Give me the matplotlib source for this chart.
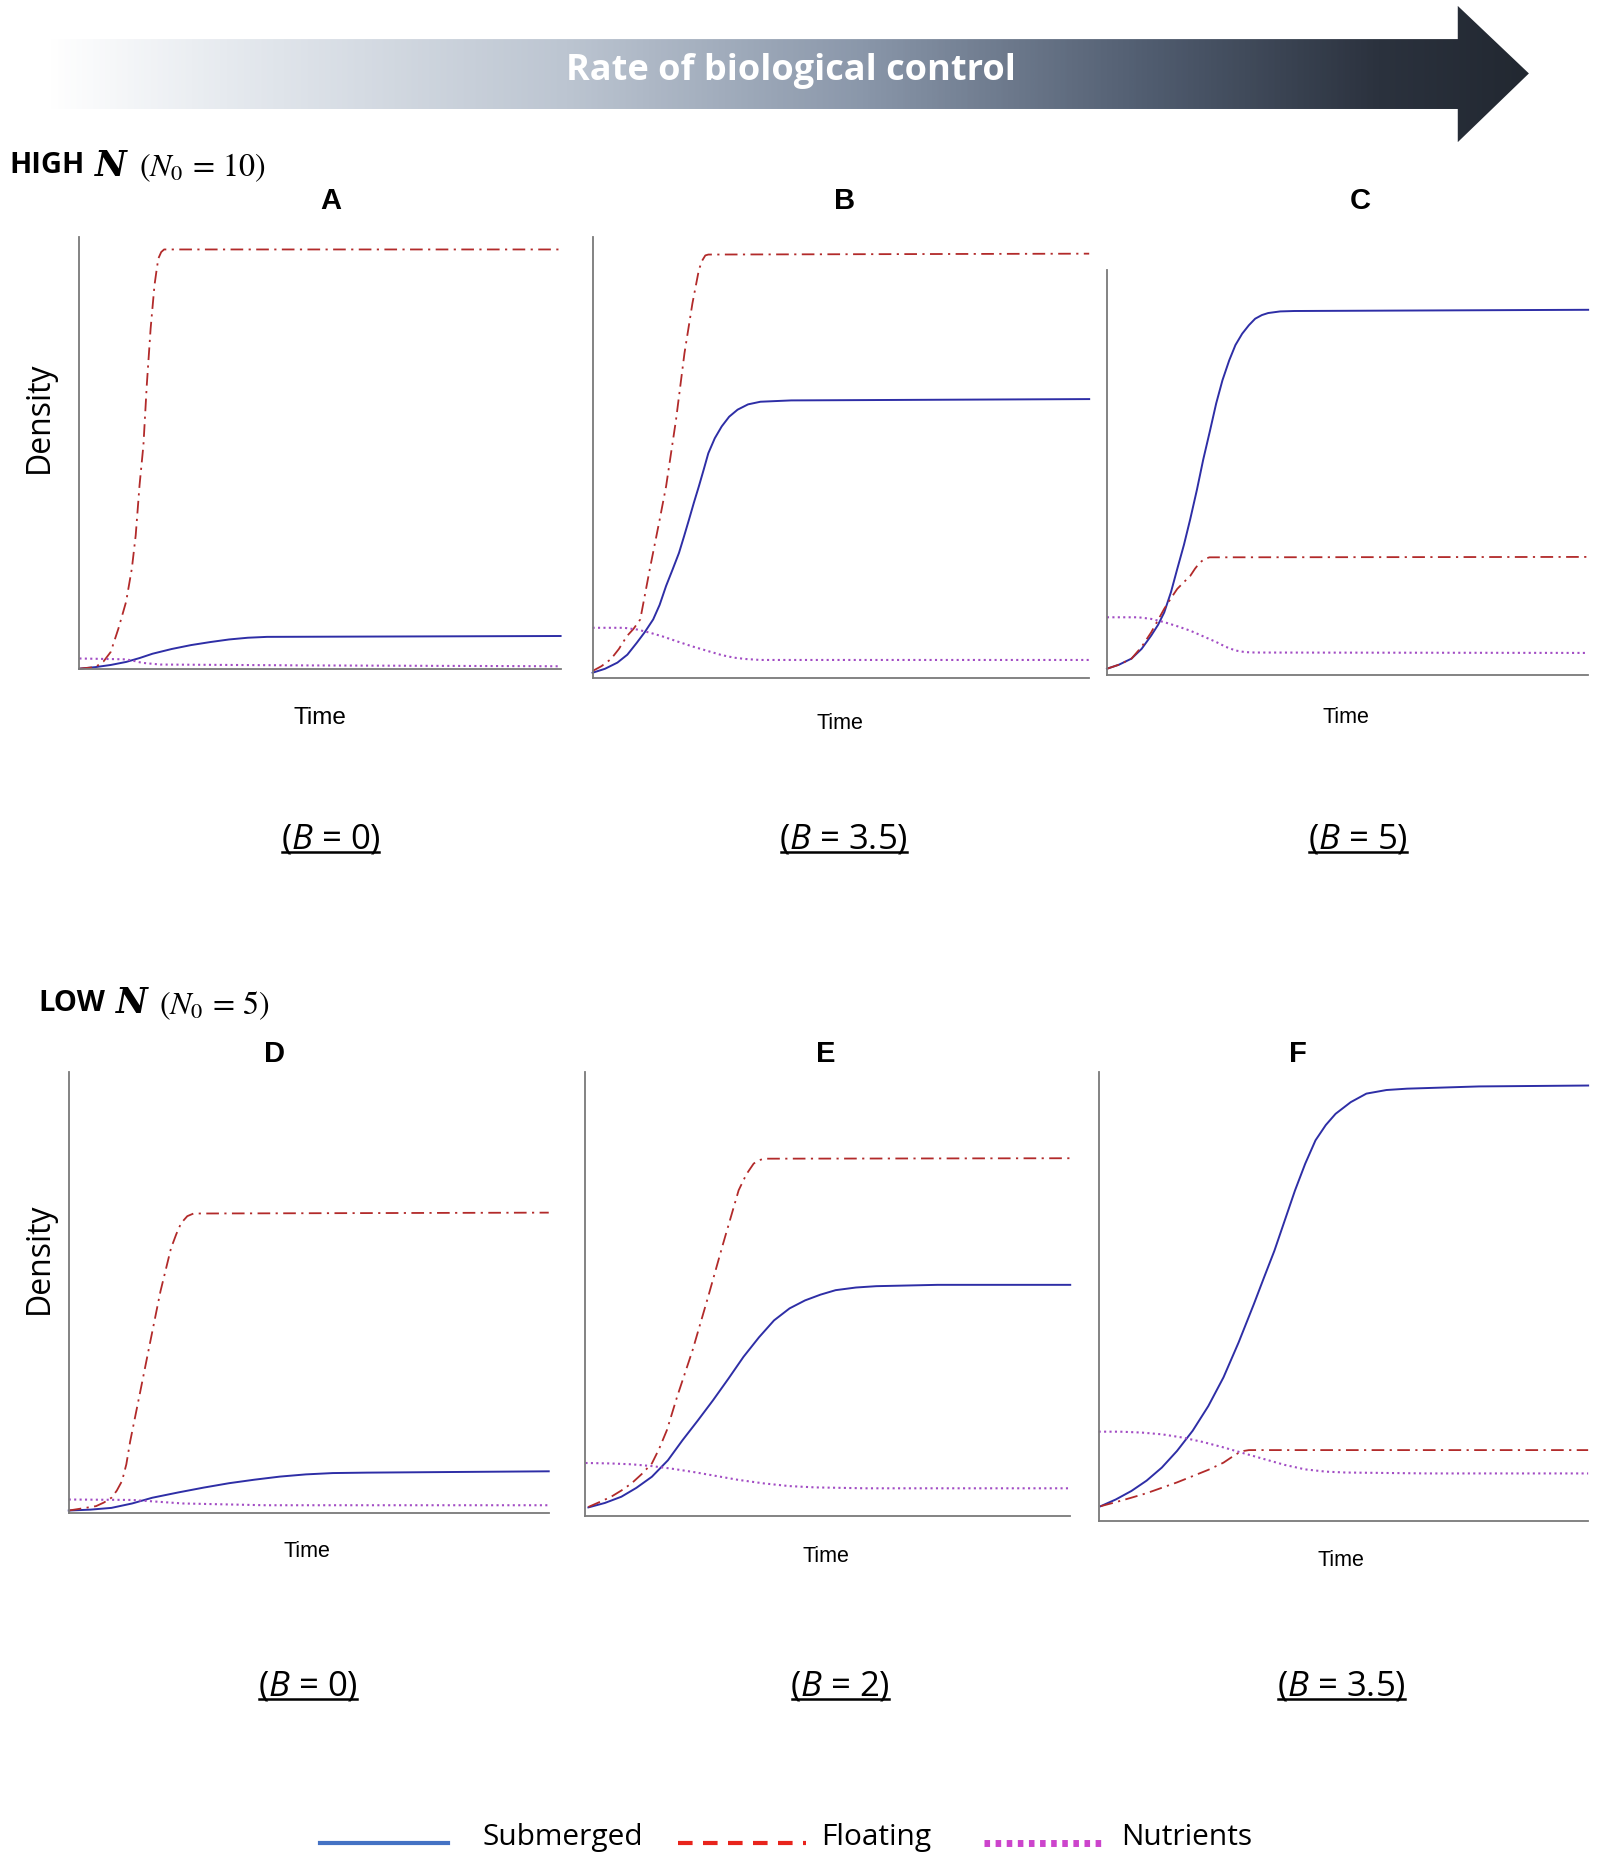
import numpy as np
import matplotlib
matplotlib.use("Agg")
import matplotlib.pyplot as plt
from matplotlib.colors import LinearSegmentedColormap
from matplotlib.patches import Polygon

plt.rcParams['font.family'] = ['Open Sans', 'DejaVu Sans']
plt.rcParams['mathtext.fontset'] = 'custom'
plt.rcParams['mathtext.rm'] = 'Open Sans'
plt.rcParams['mathtext.it'] = 'Open Sans:italic'

# ---- data (time 0-100, density as % of axis height) ----
panel_names = ['A', 'B', 'C', 'D', 'E', 'F']
b_labels = ['0', '3.5', '5', '0', '2', '3.5']

A_sub = [(0, 0.15), (3.3, 0.5), (6.5, 1.0), (9.7, 1.7), (12.5, 2.6), (15.2, 3.6), (19.2, 4.7), (23.2, 5.6),
         (27.2, 6.3), (31.1, 6.9), (35, 7.3), (39, 7.5), (100, 7.7)]
A_flo = [(0, 0.15), (3.3, 0.5), (5, 1.8), (6.5, 4), (8.1, 9.4), (9.7, 15.6), (10.9, 23.3), (11.7, 31), (12.5, 42.6),
         (13.3, 51.8), (14.0, 65.7), (14.8, 78.8), (15.6, 88.8), (16, 92), (16.4, 95), (17, 96.5), (17.6, 97.1), (100, 97.1)]
A_nut = [(0, 2.5), (9.7, 2.3), (11.5, 1.9), (13, 1.5), (16.8, 1.1), (47, 0.9), (100, 0.7)]

B_sub = [(0, 1.1), (2.5, 2), (5, 3.4), (7, 5.2), (8.9, 7.9), (10.5, 10.3), (12.2, 13.2), (13.5, 16.5), (14.8, 20.8),
         (16.1, 24.5), (17.4, 28.3), (18.4, 32), (19.4, 35.8), (20.4, 39.7), (21.4, 43.4), (22.4, 47.3), (23.3, 50.9),
         (24.6, 54.3), (26, 57), (27.5, 59.2), (29.2, 60.8), (31.3, 62), (33.8, 62.6), (40, 62.9), (100, 63.2)]
B_flo = [(0, 1.5), (1.8, 2.6), (3.7, 4.2), (5.3, 6.5), (6.9, 9.4), (8.2, 11), (9.6, 13.2), (11.5, 24.5), (13.5, 35.8),
         (14.8, 43.4), (16.8, 58.5), (18.5, 73.6), (20.1, 84.9), (21.4, 92.5), (22, 94.5), (22.7, 95.8), (23.3, 96),
         (100, 96.2)]
B_nut = [(0, 11.3), (6.3, 11.3), (9, 10.9), (11.5, 10.2), (14.2, 9.3), (16.8, 8.3), (20, 7.1), (23.3, 6.0), (26, 5.1),
         (28.6, 4.5), (31, 4.2), (33.8, 4.0), (100, 4.0)]

C_sub = [(0, 1.6), (2.5, 2.6), (5.1, 4.1), (7.2, 6.5), (9.2, 9.8), (10.6, 12.4), (11.9, 15.5), (13.3, 20.5),
         (14.6, 26.2), (16, 32.2), (17.3, 38.5), (18.7, 45.8), (20, 53.2), (21.4, 60.3), (22.7, 67.1), (24, 72.8),
         (25.4, 77.7), (26.7, 81.5), (28.1, 84.3), (29.5, 86.4), (30.8, 88), (32.2, 88.9), (33.5, 89.4), (36, 89.8),
         (38.9, 89.9), (100, 90.2)]
C_flo = [(0, 1.6), (2.5, 2.6), (5.1, 4.1), (7.2, 7), (9.2, 10.6), (10.6, 13.6), (11.9, 16.4), (13.3, 19), (14.6, 21.3),
         (16, 23), (17.3, 24.5), (18.3, 26.3), (19.3, 27.8), (20.3, 28.7), (21.3, 29.1), (100, 29.2)]
C_nut = [(0, 14.3), (6.5, 14.3), (9.2, 13.9), (11.9, 13.1), (14.6, 12.1), (17.3, 11.0), (20, 9.6), (22.7, 8.2),
         (24.7, 7.0), (26.7, 6.1), (28.7, 5.7), (30.8, 5.6), (100, 5.5)]

D_sub = [(0, 0.5), (4.5, 0.7), (8.9, 1.1), (13.2, 2.1), (17.4, 3.4), (22.8, 4.6), (28.1, 5.7), (33.4, 6.7),
         (38.7, 7.5), (44, 8.2), (49.4, 8.7), (55, 9.0), (62.1, 9.1), (100, 9.4)]
D_flo = [(0, 0.5), (2.9, 1.0), (5.7, 1.5), (7.3, 2.3), (8.9, 3.4), (10, 5), (11.1, 7.2), (12, 11), (12.8, 16.2),
         (14.9, 27.5), (17, 38.9), (19.1, 50.2), (21.3, 60), (22.4, 63.2), (23.4, 65.7), (24.7, 67.3), (26, 67.9),
         (100, 68.1)]
D_nut = [(0, 3.0), (13.2, 2.9), (18.5, 2.5), (23.8, 2.1), (40.9, 1.7), (100, 1.7)]

E_sub = [(0.6, 2.0), (4, 3.0), (7.4, 4.4), (10.5, 6.4), (13.7, 8.9), (17, 12.6), (20, 17.1), (23.2, 21.6),
         (26.3, 26.1), (29.5, 31), (32.6, 35.9), (35.8, 40.3), (38.9, 44.1), (42.1, 46.8), (45.3, 48.6), (48.5, 49.9),
         (51.6, 50.9), (55.8, 51.5), (60, 51.8), (72.6, 52.1), (100, 52.1)]
E_flo = [(0.6, 2.1), (2.9, 3.2), (5.3, 4.4), (7.4, 5.8), (9.5, 7.4), (11.6, 9.5), (13.7, 11.9), (15.2, 15.2),
         (16.8, 19.4), (18.9, 26.9), (22.1, 37.4), (25.3, 49.4), (28.4, 61.4), (31.6, 73.4), (33.2, 77),
         (34.7, 79.4), (35.7, 80.1), (36.8, 80.5), (100, 80.6)]
E_nut = [(0, 12.0), (5, 11.9), (9.5, 11.7), (13.7, 11.3), (17.9, 10.7), (22.1, 10.0), (26.3, 9.2), (31.5, 8.2),
         (36.8, 7.4), (42, 6.8), (47.4, 6.5), (57.9, 6.3), (100, 6.3)]

F_sub = [(0.4, 3.3), (3.5, 4.8), (6.7, 6.7), (9.8, 9), (12.9, 11.9), (16, 15.6), (19.2, 20.1), (22.4, 25.6),
         (25.5, 32), (28.6, 39.8), (31.7, 48.3), (33.8, 54.3), (35.9, 60.2), (38, 66.9), (40.1, 73.6), (42.2, 79.6),
         (44.3, 84.8), (46.4, 88.2), (48.4, 90.7), (51.5, 93.3), (54.7, 95.2), (58.8, 96), (63, 96.3), (77.7, 96.8),
         (100, 97.0)]
F_flo = [(0.4, 3.3), (3.5, 4.2), (6.7, 5.2), (9.8, 6.2), (12.9, 7.4), (16, 8.6), (19.2, 10.0), (22.4, 11.4),
         (25.5, 13.0), (27, 14.1), (28.6, 15.2), (29.6, 15.6), (30.7, 15.8), (100, 15.8)]
F_nut = [(0, 19.9), (4.4, 19.9), (8.8, 19.7), (13, 19.3), (17.1, 18.6), (21.3, 17.6), (25.5, 16.4), (29.6, 15.1),
         (33.8, 13.8), (38, 12.5), (42.2, 11.5), (46.4, 11), (50.5, 10.8), (58.8, 10.7), (67.2, 10.6), (100, 10.6)]

series = {
    'A': (A_sub, A_flo, A_nut), 'B': (B_sub, B_flo, B_nut), 'C': (C_sub, C_flo, C_nut),
    'D': (D_sub, D_flo, D_nut), 'E': (E_sub, E_flo, E_nut), 'F': (F_sub, F_flo, F_nut),
}
legend_labels = ['Submerged', 'Floating', 'Nutrients']

# ---- layout (in reference pixels of a 1350 x 1571 grid) ----
W, H = 1350.0, 1571.0
boxes = {  # left, right, top, bottom
    'A': (67, 473, 200, 565), 'B': (500, 919, 200, 572), 'C': (934, 1340, 228, 570),
    'D': (58, 463, 905, 1277), 'E': (494, 903, 905, 1280), 'F': (927, 1340, 905, 1284),
}
letter_pos = {'A': (279, 170), 'B': (713, 170), 'C': (1148, 170), 'D': (232, 890), 'E': (697, 890), 'F': (1095, 890)}
time_pos = {'A': (270, 606), 'B': (709, 611), 'C': (1136, 606), 'D': (259, 1310), 'E': (697, 1314), 'F': (1131, 1317)}
blab_pos = {'A': (279, 709), 'B': (712, 709), 'C': (1146, 709), 'D': (260, 1424), 'E': (709, 1424), 'F': (1132, 1424)}

fig = plt.figure(figsize=(16, 18.61), dpi=100)

over = fig.add_axes([0, 0, 1, 1])
over.set_xlim(0, W)
over.set_ylim(H, 0)
over.axis('off')

# gradient arrow on top
arrow_pts = [(40, 33), (1230, 33), (1230, 5), (1290, 62), (1230, 120), (1230, 92), (40, 92)]
arrow = Polygon(arrow_pts, closed=True, facecolor='none', edgecolor='none')
over.add_patch(arrow)
cmap = LinearSegmentedColormap.from_list('arr', [
    (0.0, '#ffffff'), (0.12, '#e6eaef'), (0.35, '#bcc5d1'), (0.55, '#8a97aa'),
    (0.75, '#4f5b6e'), (0.9, '#2b323e'), (1.0, '#222831')])
grad = np.linspace(0, 1, 512).reshape(1, -1)
img = over.imshow(grad, cmap=cmap, extent=(40, 1290, 120, 5), aspect='auto', zorder=1)
img.set_clip_path(arrow)
over.set_xlim(0, W)
over.set_ylim(H, 0)
over.text(667, 60, 'Rate of biological control', color='white', fontsize=26, fontweight='bold',
          ha='center', va='center', zorder=3)

# group headings
for x, y, word, n0 in [(8, 140, 'HIGH', '10'), (32, 847, 'LOW', '5')]:
    t = over.text(x, y, word, fontsize=21, fontweight='bold', ha='left', va='center')
    fig.canvas.draw()
    bb = t.get_window_extent()
    x1 = over.transData.inverted().transform((bb.x1, bb.y0))[0]
    t2 = over.text(x1 + 9, y, 'N', fontsize=25, fontweight='bold', style='italic',
                   family='DejaVu Serif', ha='left', va='center')
    fig.canvas.draw()
    bb = t2.get_window_extent()
    x2 = over.transData.inverted().transform((bb.x1, bb.y0))[0]
    over.text(x2 + 10, y + 2, r'$(N_0\,=\,' + n0 + ')$', fontsize=23, math_fontfamily='stix',
              ha='left', va='center')

styles = [
    dict(color='#2e2ea6', lw=1.4, ls='-'),
    dict(color='#b22a2a', lw=1.3, dashes=(7, 3, 1.2, 3)),
    dict(color='#a24cc4', lw=1.5, dashes=(1, 1.6)),
]

blab_texts = []
for name, bl in zip(panel_names, b_labels):
    l, r, top, bot = boxes[name]
    ax = fig.add_axes([l / W, 1 - bot / H, (r - l) / W, (bot - top) / H])
    ax.set_facecolor('none')
    for pts, st in zip(series[name], styles):
        t = [p[0] for p in pts]
        v = [p[1] for p in pts]
        ax.plot(t, v, clip_on=False, **st)
    ax.set_xlim(0, 100)
    ax.set_ylim(0, 100)
    ax.set_xticks([])
    ax.set_yticks([])
    for s in ['top', 'right']:
        ax.spines[s].set_visible(False)
    for s in ['left', 'bottom']:
        ax.spines[s].set_color('#7a7a7a')
        ax.spines[s].set_linewidth(1.3)

    lx, ly = letter_pos[name]
    over.text(lx, ly, name, fontsize=21, fontweight='bold', family='Liberation Sans', ha='center', va='center')
    tx, ty = time_pos[name]
    over.text(tx, ty, 'Time', fontsize=17.5 if name == 'A' else 15.5, family='Liberation Sans',
              ha='center', va='center')
    bx, by = blab_pos[name]
    bt = over.text(bx, by, r'($B$ = ' + bl + ')', fontsize=25, ha='center', va='center')
    blab_texts.append(bt)

for y in [352, 1062]:
    over.text(33, y, 'Density', fontsize=23, rotation=90, ha='center', va='center')

# underline the B labels
fig.canvas.draw()
inv = over.transData.inverted()
for bt in blab_texts:
    bb = bt.get_window_extent()
    (x0, y0), (x1, _) = inv.transform([(bb.x0, bb.y0), (bb.x1, bb.y1)])
    over.plot([x0 + 1, x1 - 1], [y0 - 4, y0 - 4], color='black', lw=1.8)

# legend at the bottom
leg_styles = [
    dict(color='#4472c4', lw=3, ls='-'),
    dict(color='#e8241c', lw=3, dashes=(3.5, 2.5)),
    dict(color='#cc44cc', lw=5, dashes=(0.8, 0.8)),
]
leg_lines = [(270, 378, 407), (572, 680, 693), (830, 932, 946)]
for (a, b, tx), st, lab in zip(leg_lines, leg_styles, legend_labels):
    over.plot([a, b], [1556, 1556], **st)
    over.text(tx, 1551, lab, fontsize=21.5, ha='left', va='center')

fig.savefig('out.png', dpi=100)
